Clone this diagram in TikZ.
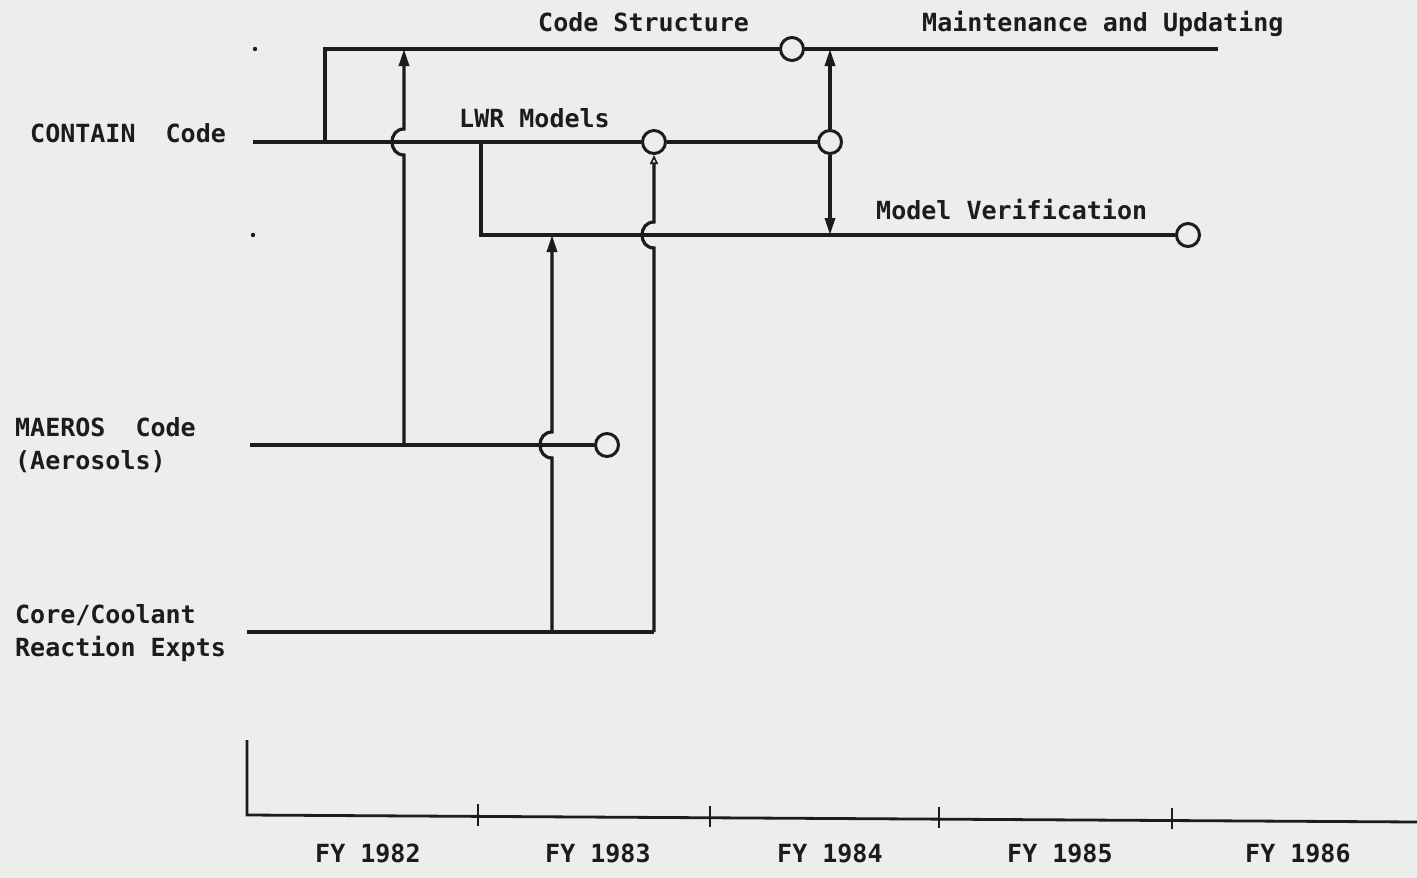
\documentclass[tikz,border=0pt]{standalone}
\usepackage{fontspec}
\newfontfamily\typew{DejaVu Sans Mono}
\usetikzlibrary{arrows.meta}
\definecolor{bgc}{RGB}{237,237,235}
\definecolor{ink}{RGB}{28,28,28}
\begin{document}
\begin{tikzpicture}[x=1pt,y=-1pt,
  lbl/.style={anchor=base west, inner sep=0pt, text=ink,
    font=\typew\bfseries\fontsize{25}{30}\selectfont},
  ms/.style={circle, draw=ink, line width=3pt, minimum size=23pt, inner sep=0pt, fill=bgc},
  ln/.style={draw=ink, line width=3.2pt},
  tipup/.style={-{Triangle[length=17pt,width=10pt]}},
  tipsmall/.style={-{Triangle[open,length=9pt,width=8pt,line width=1.6pt]}},
  tick/.style={draw=ink, line width=2.8pt}]
\fill[bgc] (0,0) rectangle (1417,878);
\useasboundingbox (0,0) rectangle (1417,878);

% texts
\node[lbl] (tcs) at (538,31) {Code Structure};
\node[lbl] (tmu) at (922,31) {Maintenance and Updating};
\node[lbl] (tlwr) at (459,127) {LWR Models};
\node[lbl] (tmv) at (876,219) {Model Verification};
\node[lbl] (tcon) at (30,142) {CONTAIN~~Code};
\node[lbl] (tma1) at (15,436) {MAEROS~~Code};
\node[lbl] (tma2) at (15,469) {(Aerosols)};
\node[lbl] (tcc1) at (15,623) {Core/Coolant};
\node[lbl] (tcc2) at (15,656) {Reaction Expts};
\node[lbl] (fy82) at (315,862) {FY 1982};
\node[lbl] (fy83) at (545,862) {FY 1983};
\node[lbl] (fy84) at (777,862) {FY 1984};
\node[lbl] (fy85) at (1007,862) {FY 1985};
\node[lbl] (fy86) at (1245,862) {FY 1986};

% milestones
\node[ms] (cs) at (792,49) {};
\node[ms] (lwr) at (654,142) {};
\node[ms] (cc) at (830,142) {};
\node[ms] (mv) at (1188,235) {};
\node[ms] (ma) at (607,445) {};

% coordinates
\coordinate (tl) at (325,49);
\coordinate (te) at (1218,49);
\coordinate (cl) at (325,142);
\coordinate (c0) at (253,142);
\coordinate (b1) at (481,142);
\coordinate (b2) at (481,235);
\coordinate (m0) at (250,445);
\coordinate (a0) at (404,445);
\coordinate (a1) at (404,49);
\coordinate (r0) at (247,632);
\coordinate (r1) at (552,632);
\coordinate (r2) at (654,632);
\coordinate (bt) at (552,235);
\coordinate (up) at (830,49);
\coordinate (dn) at (830,235);
\coordinate (ax0) at (247,740);
\coordinate (ax1) at (247,815);
\coordinate (ax2) at (1417,822);

% stray dots
\fill[ink] (255,49) circle (2.2pt);
\fill[ink] (253,235) circle (2.2pt);

% lines
\draw[ln] (cl) -- (tl) -- (cs.west);
\draw[ln] (cs.east) -- (te);
\draw[ln] (c0) -- (lwr.west);
\draw[ln] (lwr.east) -- (cc.west);
\draw[ln] (b1) -- (b2) -- (mv.west);
\draw[ln] (m0) -- (ma.west);
\draw[ln] (r0) -- (r2);

% verticals with hops
\draw[ln,tipup] (a0) -- (404,155) .. controls (388,155) and (388,129) .. (404,129) -- (a1);
\draw[ln,tipup] (r1) -- (552,458) .. controls (536,458) and (536,432) .. (552,432) -- (bt);
\draw[ln,tipsmall] (r2) -- (654,248) .. controls (638,248) and (638,222) .. (654,222) -- (lwr.south);
\draw[ln,tipup] (cc.north) -- (up);
\draw[ln,tipup] (cc.south) -- (dn);

% axis
\draw[tick] (ax0) -- (ax1) -- (ax2);
\draw[tick] (478,804) -- (478,826);
\draw[tick] (710,806) -- (710,827);
\draw[tick] (939,807) -- (939,828);
\draw[tick] (1172,808) -- (1172,829);
\end{tikzpicture}
\end{document}
